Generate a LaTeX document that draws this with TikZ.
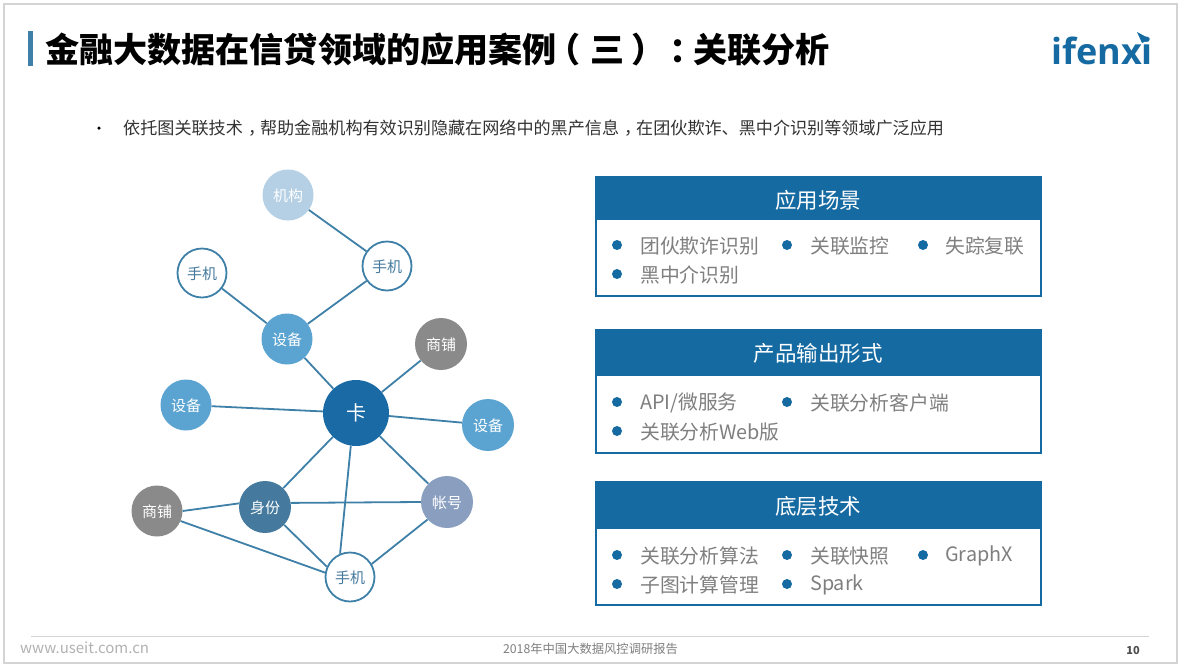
\documentclass[tikz,border=0pt]{standalone}
\usepackage{fontspec}
\setmainfont{Noto Sans CJK SC}
\newfontfamily\logofont{Open Sans}
\definecolor{lineblue}{HTML}{3F80A8}
\definecolor{headblue}{HTML}{166AA2}
\definecolor{kablue}{HTML}{1A6AA5}
\definecolor{devblue}{HTML}{5BA4D2}
\definecolor{orgblue}{HTML}{B5D0E4}
\definecolor{idblue}{HTML}{457A9E}
\definecolor{acblue}{HTML}{8A9FC0}
\definecolor{shopgray}{HTML}{8A8A8A}
\definecolor{listgray}{HTML}{7F7F7F}
\definecolor{framegray}{HTML}{D4D4D4}
\newcommand{\fs}[1]{\fontsize{#1}{#1}\selectfont}
\newcommand{\cellshift}[2]{\makebox[1em][l]{\hspace{#1em}#2}}
\tikzset{
  x=1pt,y=-1pt,
  circ/.style={circle,inner sep=0pt,minimum size=51pt,text=white,font=\fs{15},text height=14.5pt,text depth=2pt},
  ringnode/.style={circ,draw=lineblue,line width=1.8pt,fill=white,minimum size=49pt,text=idblue},
  link/.style={draw=lineblue,line width=1.8pt},
  boxframe/.style={draw=headblue,line width=2pt,fill=white},
  boxhead/.style={text=white,font=\fs{21.5},inner sep=0pt},
  item/.style={anchor=west,text=listgray,font=\fs{19.8},inner sep=0pt},
  dotmark/.style={circle,fill=headblue,inner sep=0pt,minimum size=10pt}
}
\begin{document}
\begin{tikzpicture}
\useasboundingbox (0,0) rectangle (1181,667);
\fill[white] (0,0) rectangle (1181,667);
\draw[framegray,line width=1.2pt] (4,4) rectangle (1177,663);
% title
\fill[lineblue] (28,31) rectangle (33,66);
\node[anchor=west,inner sep=0pt,font=\fs{34.1}\bfseries,text=black] (title) at (45,50) {金融大数据在信贷领域的应用案例\cellshift{-0.3}{（}三\cellshift{0.2}{）}\cellshift{0.3}{：}关联分析};
% logo
\node[anchor=west,inner sep=0pt,font=\fs{36}\logofont\bfseries,text=headblue] (logo) at (1051,51) {ifenxi};
\fill[headblue] (1137,32) -- (1150,39) -- (1142,43) -- cycle;
% subtitle
\node[circle,fill=black,inner sep=0pt,minimum size=3.5pt] (bul) at (99,128) {};
\node[anchor=west,inner sep=0pt,font=\fs{17.1},text=black!80] (sub) at (123,128) {依托图关联技术\cellshift{0.3}{，}帮助金融机构有效识别隐藏在网络中的黑产信息\cellshift{0.3}{，}在团伙欺诈、黑中介识别等领域广泛应用};
% graph nodes
\node[circ,fill=orgblue] (org) at (288,195) {机构};
\node[ringnode] (ph1) at (387,266) {手机};
\node[ringnode] (ph2) at (202,273) {手机};
\node[circ,fill=devblue] (dev1) at (287,339) {设备};
\node[circ,fill=shopgray,minimum size=52pt] (shop1) at (441,344) {商铺};
\node[circ,fill=kablue,minimum size=66pt,font=\fs{20},text height=17pt,text depth=3pt] (ka) at (356,413) {卡};
\node[circ,fill=devblue] (dev2) at (186,405) {设备};
\node[circ,fill=devblue,minimum size=52pt] (dev3) at (488,425) {设备};
\node[circ,fill=idblue,minimum size=52pt] (idn) at (265,507) {身份};
\node[circ,fill=acblue,minimum size=52pt] (acc) at (447,502) {帐号};
\node[circ,fill=shopgray] (shop2) at (157,511) {商铺};
\node[ringnode] (ph3) at (350,577) {手机};
% links
\path[link] (org)--(ph1) (ph1)--(dev1) (ph2)--(dev1) (dev1)--(ka) (shop1)--(ka)
  (dev2)--(ka) (ka)--(dev3) (ka)--(idn) (ka.-99)--(ph3.113) (ka)--(acc) (idn.9)--(acc.180)
  (shop2.0)--(idn.172) (shop2.-23)--(ph3.170) (idn.-43)--(ph3.156) (acc.222)--(ph3.31);
% box 1
\draw[boxframe] (595.5,177) rectangle (1041,296);
\fill[headblue] (595,176) rectangle (1042,220);
\node[boxhead] (h1) at (818,200) {应用场景};
\node[dotmark] (d11) at (617,245) {};
\node[item] (t11) at (640,246) {团伙欺诈识别};
\node[dotmark] (d12) at (787,245) {};
\node[item] (t12) at (810,246) {关联监控};
\node[dotmark] (d13) at (923,245) {};
\node[item] (t13) at (945,246) {失踪复联};
\node[dotmark] (d14) at (617,274) {};
\node[item] (t14) at (640,275) {黑中介识别};
% box 2
\draw[boxframe] (595.5,330) rectangle (1041,453);
\fill[headblue] (595,329) rectangle (1042,376);
\node[boxhead] (h2) at (818,353) {产品输出形式};
\node[dotmark] (d21) at (617,402) {};
\node[item] (t21) at (640,403) {API/微服务};
\node[dotmark] (d22) at (787,402) {};
\node[item] (t22) at (810,403) {关联分析客户端};
\node[dotmark] (d23) at (617,431) {};
\node[item] (t23) at (640,432) {关联分析Web版};
% box 3
\draw[boxframe] (595.5,482) rectangle (1041,605);
\fill[headblue] (595,481) rectangle (1042,529);
\node[boxhead] (h3) at (818,506) {底层技术};
\node[dotmark] (d31) at (617,555) {};
\node[item] (t31) at (640,556) {关联分析算法};
\node[dotmark] (d32) at (787,555) {};
\node[item] (t32) at (810,556) {关联快照};
\node[dotmark] (d33) at (923,555) {};
\node[item] (t33) at (945,556) {GraphX};
\node[dotmark] (d34) at (617,584) {};
\node[item] (t34) at (640,585) {子图计算管理};
\node[dotmark] (d35) at (787,584) {};
\node[item] (t35) at (810,585) {Spark};
% footer
\draw[framegray,line width=1pt] (31,636) -- (1149,636);
\node[inner sep=0pt,font=\fs{12.3},text=listgray] (foot) at (590.5,649) {2018年中国大数据风控调研报告};
\node[inner sep=0pt,font=\fs{11}\bfseries,text=black!70] (pg) at (1133,650) {10};
\node[anchor=west,inner sep=0pt,font=\fs{15},text=black!30] (wm) at (20,648) {www.useit.com.cn};
\end{tikzpicture}
\end{document}
